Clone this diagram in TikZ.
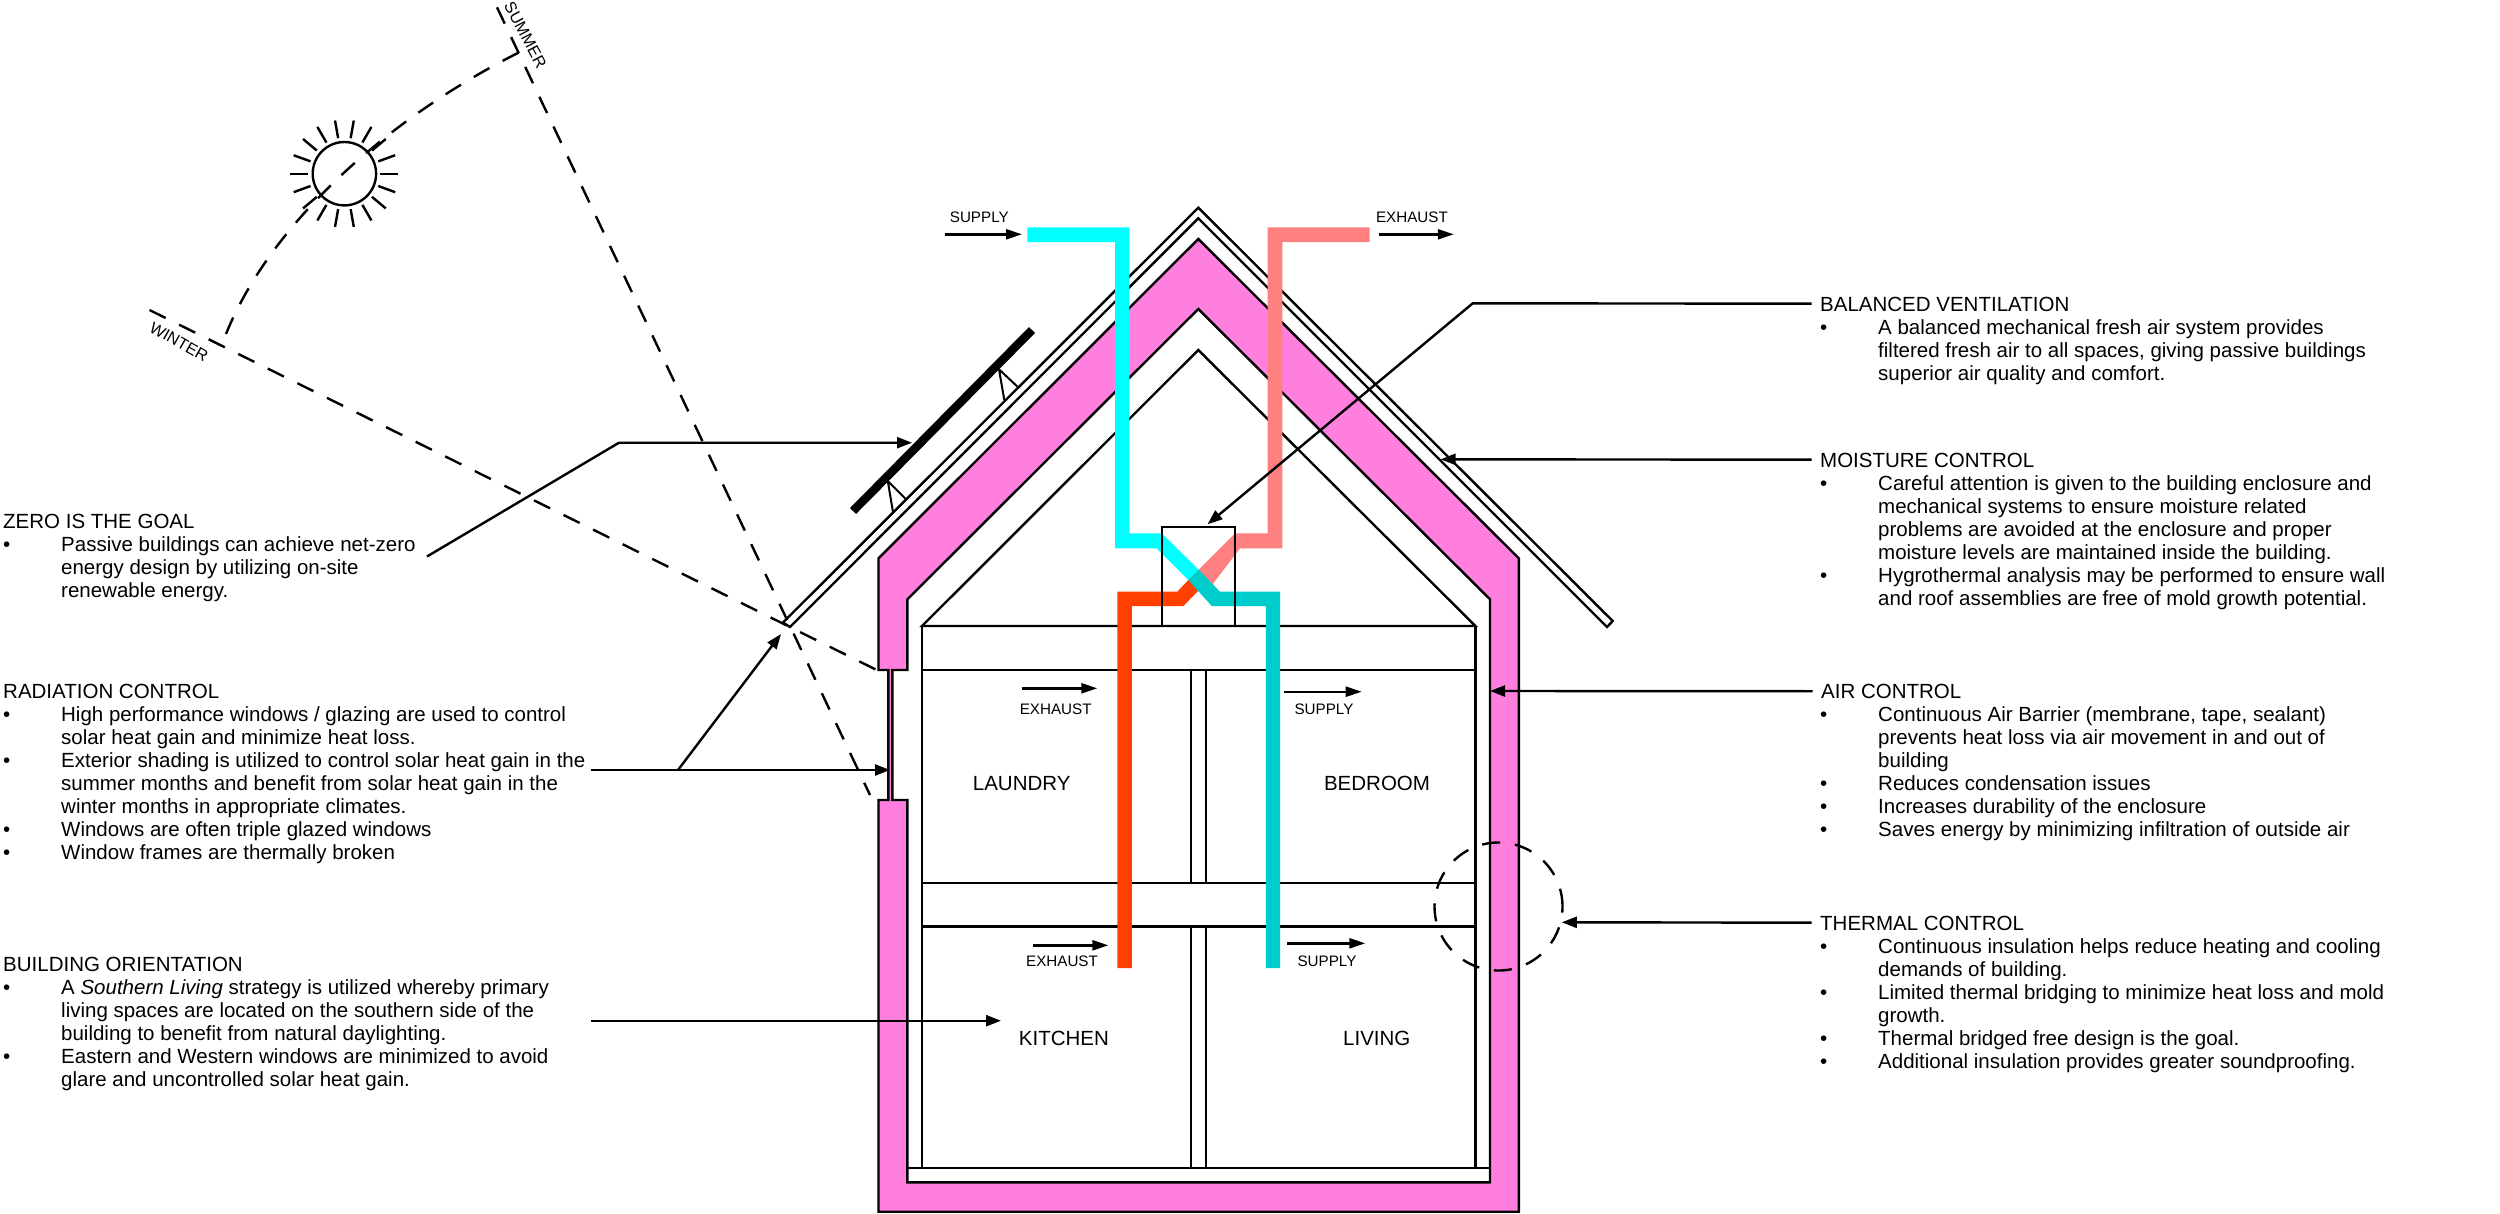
\documentclass[tikz,border=0pt]{standalone}
\usepackage{fontspec}
\setmainfont{Liberation Sans}
\usetikzlibrary{
  arrows.meta,
  positioning
}
\definecolor{hsPink}{HTML}{FF7FDF}
\definecolor{hsCyan}{HTML}{00FFFF}
\definecolor{hsTeal}{HTML}{00CCCC}
\definecolor{hsSalmon}{HTML}{FF8080}
\definecolor{hsOrange}{HTML}{FF4000}
\newcommand{\itm}{\makebox[58pt][l]{•}}
\newcommand{\cnt}{\hspace*{58pt}}
\tikzset{
  wall/.style={draw=black, line width=2.4pt, line join=miter},
  thinline/.style={draw=black, line width=2pt},
  solardash/.style={draw=black, line width=2.4pt, dash pattern=on 18pt off 15pt},
  sunray/.style={draw=black, line width=2.4pt},
  callout/.style={-{Triangle[length=15pt,width=11pt]}, draw=black, line width=2.4pt},
  calloutr/.style={callout, shorten <=8.5pt},
  flowtip/.style={-{Triangle[length=16pt,width=10pt]}, draw=black, line width=2.4pt},
  heading/.style={inner sep=0pt, anchor=base west, text height=17pt, text depth=2.4pt,
    font=\fontsize{20.5}{22.95}\selectfont},
  bodytext/.style={inner sep=0pt, align=left, font=\fontsize{20.5}{22.95}\selectfont},
  roomlabel/.style={inner sep=0pt, font=\fontsize{20.5}{23.2}\selectfont},
  flowlabel/.style={inner sep=0pt, font=\fontsize{15.2}{18}\selectfont},
  seasonlabel/.style={inner sep=0pt, font=\fontsize{16.2}{18}\selectfont}
}
\begin{document}
\begin{tikzpicture}[x=1pt, y=-1pt]
  \useasboundingbox (0,0) rectangle (2500,1213);
  % roof shell and insulated enclosure
  \draw[wall, fill=white] (783,622.5) -- (1198.3,207.7) -- (1612.7,621) -- (1607,627)
    -- (1198.3,218.3) -- (790,627) -- cycle;
  \draw[wall, fill=hsPink, even odd rule]
    (878.5,558.3) -- (1198.3,239) -- (1518.8,558.3) -- (1518.8,1211.7) -- (878.5,1211.7)
    -- (878.5,800) -- (888.3,800) -- (888.3,670) -- (878.5,670) -- cycle
    (907.4,599.3) -- (907.4,670) -- (892.3,670) -- (892.3,800) -- (907.4,800)
    -- (907.4,1182.3) -- (1490,1182.3) -- (1490,599.3) -- (1198.3,309) -- cycle;
  % rooms
  \draw[wall] (922,626) -- (1198.3,350) -- (1475.4,626) -- cycle;
  \draw[wall] (922,626) -- (922,1167.7);
  \draw[wall] (1475.4,626) -- (1475.4,1167.7);
  \draw[wall] (907.4,1167.7) -- (1490,1167.7);
  \foreach \yy in {670,882.7,926.3}{\draw[wall] (922,\yy) -- (1475.4,\yy);}
  \foreach \xx in {1191,1205.8}{
    \draw[wall] (\xx,670) -- (\xx,882.7);
    \draw[wall] (\xx,926.3) -- (\xx,1167.7);
  }
  % ducts
  \fill[hsSalmon] (1369.7,227.3) -- (1267.7,227.3) -- (1267.7,533.3) -- (1235,533.3)
    -- (1190,578.3) -- (1209,589) -- (1240,548.3) -- (1282.3,548.3) -- (1282.3,242) -- (1369.7,242) -- cycle;
  \fill[hsOrange] (1195,573) -- (1177.3,591.7) -- (1117.3,591.7) -- (1117.3,968) -- (1131.8,968)
    -- (1131.8,606) -- (1183.3,606) -- (1208,581) -- cycle;
  \fill[hsCyan] (1027.3,227.3) -- (1129.3,227.3) -- (1129.3,533.3) -- (1161.7,533.3) -- (1199,570)
    -- (1188.3,580) -- (1156.7,548.3) -- (1115,548.3) -- (1115,242) -- (1027.3,242) -- cycle;
  \fill[hsTeal] (1199,570) -- (1220,591.7) -- (1280,591.7) -- (1280,968) -- (1265.8,968)
    -- (1265.8,606) -- (1211.7,606) -- (1188.3,580) -- cycle;
  \node[wall, minimum width=72.8pt, minimum height=99.3pt, inner sep=0pt] (hrv) at (1198.6,576.4) {};
  % solar panel
  \draw[black, line width=8.5pt] (853,511) -- (1032,330);
  \draw[thinline] (1004.3,400) -- (999,369.3) -- (1017.5,386.7);
  \draw[thinline] (893,512.3) -- (887.8,481) -- (906,499.3);
  % sun and seasons
  \node[circle, wall, minimum size=63.4pt, inner sep=0pt] (sun) at (344.4,173.7) {};
  \foreach \a in {0,20,...,340}{\draw[sunray] (sun.center) ++(\a:36) -- ++(\a:18);}
  \coordinate (winter) at (226,334);
  \coordinate (summer) at (518.4,52.7);
  \draw[solardash] (winter) .. controls (270,225) and (385,120) .. (summer);
  \draw[solardash] (149.5,310) -- (876.7,670);
  \draw[solardash] (497,7.3) -- (870,795);
  \node[seasonlabel, rotate=-29.5] (winterlbl) at (179,342) {WINTER};
  \node[seasonlabel, rotate=-62] (summerlbl) at (525.5,35) {SUMMER};
  % rooms and flows
  \node[roomlabel] (laundry) at (1021.7,783.7) {LAUNDRY};
  \node[roomlabel] (bedroom) at (1377,783.7) {BEDROOM};
  \node[roomlabel] (kitchen) at (1063.9,1038.7) {KITCHEN};
  \node[roomlabel] (living) at (1376.8,1038.7) {LIVING};
  \node[flowlabel] (supplytop) at (979.3,217) {SUPPLY};
  \node[flowlabel] (exhausttop) at (1411.9,217) {EXHAUST};
  \node[flowlabel] (exhaustup) at (1055.7,709.3) {EXHAUST};
  \node[flowlabel] (supplyup) at (1324,709.3) {SUPPLY};
  \node[flowlabel] (exhaustlow) at (1062,961.3) {EXHAUST};
  \node[flowlabel] (supplylow) at (1327,961.3) {SUPPLY};
  \foreach \n/\xa/\xb/\yy in {fa/944.6/1022/234.3, fb/1378.6/1453.8/234.3, fc/1022.3/1097.3/688.3,
      fd/1284/1361.7/691.7, fe/1033.3/1108.4/945.3, ff/1287.3/1365.3/943.3}{
    \coordinate (\n s) at (\xa,\yy);
    \coordinate (\n e) at (\xb,\yy);
    \draw[flowtip] (\n s) -- (\n e);
  }
  % thermal detail circle
  \node[circle, solardash, minimum size=128pt, inner sep=0pt] (thermring) at (1498.5,906.5) {};
  % left column
  \node[heading] (zero) at (3,528) {ZERO IS THE GOAL};
  \node[bodytext, below=5.8pt of zero.south west, anchor=north west] (zerotxt) {%
    \itm Passive buildings can achieve net-zero\\
    \cnt energy design by utilizing on-site\\
    \cnt renewable energy.};
  \node[heading] (radiation) at (3,698.5) {RADIATION CONTROL};
  \node[bodytext, below=5.8pt of radiation.south west, anchor=north west] (radiationtxt) {%
    \itm High performance windows / glazing are used to control\\
    \cnt solar heat gain and minimize heat loss.\\
    \itm Exterior shading is utilized to control solar heat gain in the\\
    \cnt summer months and benefit from solar heat gain in the\\
    \cnt winter months in appropriate climates.\\
    \itm Windows are often triple glazed windows\\
    \itm Window frames are thermally broken};
  \node[heading] (orient) at (3,971.5) {BUILDING ORIENTATION};
  \node[bodytext, below=5.8pt of orient.south west, anchor=north west] (orienttxt) {%
    \itm A \textit{Southern Living} strategy is utilized whereby primary\\
    \cnt living spaces are located on the southern side of the\\
    \cnt building to benefit from natural daylighting.\\
    \itm Eastern and Western windows are minimized to avoid\\
    \cnt glare and uncontrolled solar heat gain.};
  % right column
  \node[heading] (balvent) at (1820,311) {BALANCED VENTILATION};
  \node[bodytext, below=5.8pt of balvent.south west, anchor=north west] (balventtxt) {%
    \itm A balanced mechanical fresh air system provides\\
    \cnt filtered fresh air to all spaces, giving passive buildings\\
    \cnt superior air quality and comfort.};
  \node[heading] (moisture) at (1820,467) {MOISTURE CONTROL};
  \node[bodytext, below=5.8pt of moisture.south west, anchor=north west] (moisturetxt) {%
    \itm Careful attention is given to the building enclosure and\\
    \cnt mechanical systems to ensure moisture related\\
    \cnt problems are avoided at the enclosure and proper\\
    \cnt moisture levels are maintained inside the building.\\
    \itm Hygrothermal analysis may be performed to ensure wall\\
    \cnt and roof assemblies are free of mold growth potential.};
  \node[heading] (aircontrol) at (1821,698.5) {AIR CONTROL};
  \node[bodytext, below=5.8pt of aircontrol.south west, anchor=north west, xshift=-1pt] (aircontroltxt) {%
    \itm Continuous Air Barrier (membrane, tape, sealant)\\
    \cnt prevents heat loss via air movement in and out of\\
    \cnt building\\
    \itm Reduces condensation issues\\
    \itm Increases durability of the enclosure\\
    \itm Saves energy by minimizing infiltration of outside air};
  \node[heading] (thermal) at (1820,930) {THERMAL CONTROL};
  \node[bodytext, below=5.8pt of thermal.south west, anchor=north west] (thermaltxt) {%
    \itm Continuous insulation helps reduce heating and cooling\\
    \cnt demands of building.\\
    \itm Limited thermal bridging to minimize heat loss and mold\\
    \cnt growth.\\
    \itm Thermal bridged free design is the goal.\\
    \itm Additional insulation provides greater soundproofing.};
  % callouts
  \coordinate (zerostart) at (427,556.5);
  \coordinate (zerobend) at (619,442.7);
  \coordinate (paneltip) at (912,442.7);
  \draw[callout] (zerostart) -- (zerobend) -- (paneltip);
  \coordinate (radstart) at (591,770);
  \coordinate (windowtip) at (890,770);
  \coordinate (radbranch) at (678,770);
  \coordinate (shadetip) at (781,634);
  \draw[callout] (radstart) -- (windowtip);
  \draw[callout] (radbranch) -- (shadetip);
  \coordinate (orientstart) at (591,1020.7);
  \coordinate (kitchentip) at (1001,1020.7);
  \draw[callout] (orientstart) -- (kitchentip);
  \coordinate (ventbend) at (1472.7,303.3);
  \coordinate (hrvtip) at (1207.5,524.3);
  \draw[calloutr] (balvent.west) -- (ventbend) -- (hrvtip);
  \coordinate (rooftip) at (1440.6,459.3);
  \draw[calloutr] (moisture.west) -- (rooftip);
  \coordinate (airtip) at (1490,691);
  \draw[calloutr] (aircontrol.west) -- (airtip);
  \draw[calloutr] (thermal.west) -- (thermring.-14);
\end{tikzpicture}
\end{document}
